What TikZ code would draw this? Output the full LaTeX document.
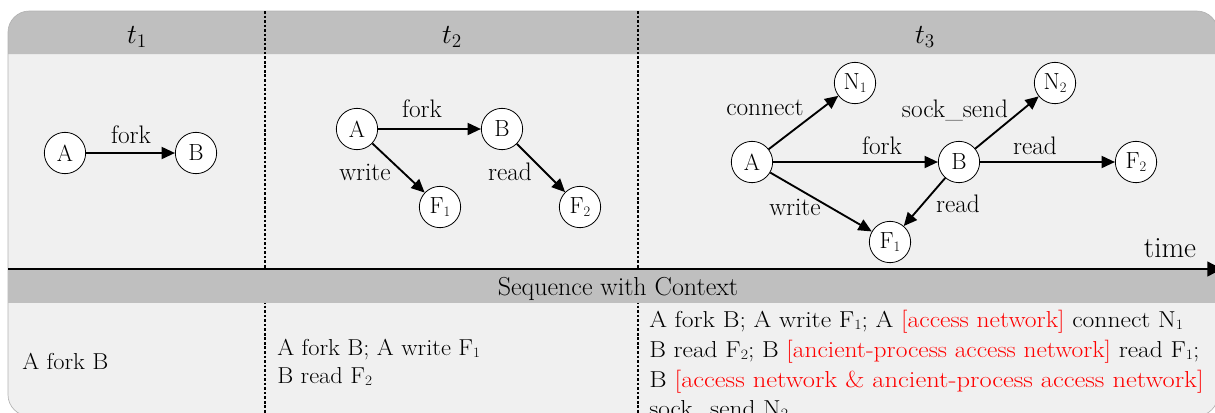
\documentclass[tikz,border=0pt]{standalone}
\usetikzlibrary{arrows.meta}
\definecolor{hdr}{RGB}{191,191,191}
\definecolor{pane}{RGB}{240,240,240}
\definecolor{ctx}{RGB}{255,0,0}
% small index digits sitting close to the baseline
\newcommand\lo[1]{\raisebox{-0.25ex}{\scalebox{0.62}{#1}}}
% slightly widened running text
\newcommand\wide[2]{\scalebox{#1}[1]{#2}}
\tikzset{
  ent/.style={circle,draw,line width=0.6pt,fill=white,minimum size=31pt,inner sep=0pt,
    font=\fontsize{17.5}{20}\selectfont},
  rel/.style={line width=1.4pt,-{Triangle[length=10pt,width=9pt]}},
  lbl/.style={anchor=base,inner sep=0pt,font=\fontsize{19}{21}\selectfont},
  seqtext/.style={anchor=base west,inner sep=0pt,font=\fontsize{17.3}{20}\selectfont},
  coltitle/.style={anchor=base,inner sep=0pt,font=\fontsize{21}{23}\selectfont},
  divider/.style={line width=1.2pt,dash pattern=on 2pt off 1.4pt},
}
\begin{document}
\begin{tikzpicture}[x=0.75pt,y=-0.75pt]
\clip (0,0) rectangle (1215,412);
% panel, header and column separators
\fill[pane,rounded corners=16] (8,11) rectangle (1218,416);
\fill[hdr] (8,54) [rounded corners=16] -- (8,11) -- (1218,11) [sharp corners] -- (1218,54) -- cycle;
\draw[gray!60,line width=0.5pt,rounded corners=16] (8,11) rectangle (1218,416);
\draw[divider] (265,11) -- (265,416);
\draw[divider] (638,11) -- (638,416);
\fill[hdr] (8,270) rectangle (1218,303);
% time axis
\coordinate (tstart) at (8,269);
\coordinate (tend) at (1222,269);
\draw[line width=1.8pt,-{Triangle[length=11pt,width=11pt]}] (tstart) -- (tend);
\node[anchor=base,inner sep=0pt,font=\fontsize{22}{24}\selectfont] (timelbl) at (1170,257) {time};
% column titles
\node[coltitle] (h1) at (137,43) {$t_1$};
\node[coltitle] (h2) at (452,43) {$t_2$};
\node[coltitle] (h3) at (925,43) {$t_3$};
\node[anchor=base,inner sep=0pt,font=\fontsize{19.5}{22}\selectfont] (seqhead) at (618,295) {Sequence with Context};

% step 1
\node[ent] (a1) at (65,153) {A};
\node[ent] (b1) at (196,153) {B};
\draw[rel] (a1) -- (b1);
\node[lbl] (l1) at (131,143) {fork};

% step 2
\node[ent] (a2) at (357,129) {A};
\node[ent] (b2) at (502,129) {B};
\node[ent] (f21) at (440,207) {F\lo{1}};
\node[ent] (f22) at (580,207) {F\lo{2}};
\draw[rel] (a2) -- (b2);
\draw[rel] (a2) -- (f21);
\draw[rel] (b2) -- (f22);
\node[lbl] (l2a) at (422,117) {fork};
\node[lbl] (l2b) at (365,180) {write};
\node[lbl] (l2c) at (510,180) {read};

% step 3
\node[ent] (a3) at (752,162) {A};
\node[ent] (b3) at (959,162) {B};
\node[ent] (f32) at (1136,162) {F\lo{2}};
\node[ent] (n31) at (855,83) {N\lo{1}};
\node[ent] (n32) at (1055,83) {N\lo{2}};
\node[ent] (f31) at (890,242) {F\lo{1}};
\draw[rel] (a3) -- (n31);
\draw[rel] (a3) -- (b3);
\draw[rel] (a3) -- (f31);
\draw[rel] (b3) -- (n32);
\draw[rel] (b3) -- (f32);
\draw[rel] (b3) -- (f31);
\node[lbl] (l3a) at (765,115) {connect};
\node[lbl] (l3b) at (955,117) {sock\_send};
\node[lbl] (l3c) at (882,154) {fork};
\node[lbl] (l3d) at (1035,154) {read};
\node[lbl] (l3e) at (795,215) {write};
\node[lbl] (l3f) at (958,212) {read};

% event sequences
\node[seqtext] (s1) at (22,369) {\wide{1.06}{A fork B}};
\node[seqtext] (s2a) at (277,355) {\wide{1.06}{A fork B; A write F\lo{1}}};
\node[seqtext] (s2b) at (277,383) {\wide{1.06}{B read F\lo{2}}};
\node[seqtext] (s3a) at (649,327) {\wide{1.11}{A fork B; A write F\lo{1}; A \textcolor{ctx}{[access network]} connect N\lo{1}}};
\node[seqtext] (s3b) at (649,357) {\wide{1.105}{B read F\lo{2}; B \textcolor{ctx}{[ancient-process access network]} read F\lo{1};}};
\node[seqtext] (s3c) at (649,387) {\wide{1.15}{B \textcolor{ctx}{[access network \& ancient-process access network]}}};
\node[seqtext] (s3d) at (649,416) {\wide{1.1}{sock\_send N\lo{2}}};
\end{tikzpicture}
\end{document}
